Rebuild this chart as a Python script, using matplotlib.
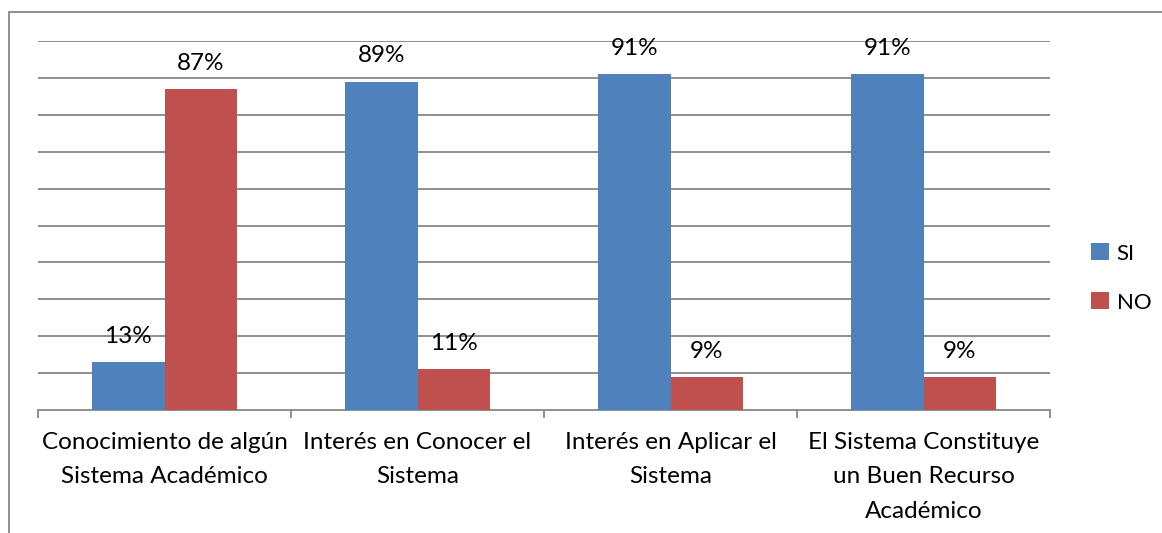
import matplotlib
matplotlib.use("Agg")
import matplotlib.pyplot as plt
from matplotlib.patches import Rectangle
import numpy as np

categories = ["Conocimiento de algún\nSistema Académico",
              "Interés en Conocer el\nSistema",
              "Interés en Aplicar el\nSistema",
              "El Sistema Constituye\nun Buen Recurso\nAcadémico"]
si_values = [13, 89, 91, 91]
no_values = [87, 11, 9, 9]
series_names = ["SI", "NO"]

plt.rcParams['font.family'] = ['Lato', 'DejaVu Sans']

W, H = 1162, 533
fig = plt.figure(figsize=(W/100, H/100), dpi=100)
fig.patch.set_facecolor("white")

# outer chart frame
fig.patches.append(Rectangle((9/W, -0.1), 2, 1 - 12/H + 0.1, transform=fig.transFigure,
                             fill=False, edgecolor="#868686", linewidth=1.3))

ax = fig.add_axes([38/W, 1 - 410/H, (1050-38)/W, (410-41)/H])
x = np.arange(len(categories))
bw = 1/3.5
b1 = ax.bar(x - bw/2, si_values, bw, color="#4F81BD", label=series_names[0], zorder=3)
b2 = ax.bar(x + bw/2, no_values, bw, color="#C0504D", label=series_names[1], zorder=3)

fs = 17.5
for bars, vals in ((b1, si_values), (b2, no_values)):
    for r, v in zip(bars, vals):
        ax.annotate(f"{v}%", (r.get_x() + r.get_width()/2, v), xytext=(0, 11),
                    textcoords="offset points", ha="center", va="bottom",
                    fontsize=fs, color="black")

ax.set_xlim(-0.5, len(categories) - 0.5)
ax.set_ylim(0, 100)
ax.set_yticks(np.arange(10, 101, 10))
ax.yaxis.grid(True, color="#868686", linewidth=1.3, zorder=0)
ax.tick_params(axis="y", left=False, labelleft=False)
for s in ("top", "right", "left"):
    ax.spines[s].set_visible(False)
ax.spines["bottom"].set_color("#868686")
ax.spines["bottom"].set_linewidth(1.3)

ax.set_xticks(x)
ax.set_xticklabels(categories, fontsize=fs, linespacing=1.78)
ax.tick_params(axis="x", which="major", length=0, pad=16)
ax.set_xticks(np.arange(-0.5, len(categories)), minor=True)
ax.tick_params(axis="x", which="minor", length=6, width=1.3, color="#868686")

leg = fig.legend(handles=[b1, b2], loc="center left", bbox_to_anchor=(1091/W, 1 - 278/H),
                 frameon=False, fontsize=16, handlelength=0.8, handleheight=0.8,
                 handletextpad=0.35, labelspacing=1.3, borderpad=0, borderaxespad=0)

fig.savefig("out.png", dpi=100)
